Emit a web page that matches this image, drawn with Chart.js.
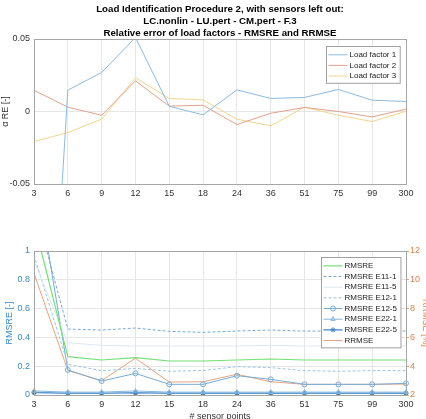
<!DOCTYPE html>
<html>
<head>
<meta charset="utf-8">
<script src="https://cdn.jsdelivr.net/npm/chart.js@4.4.1/dist/chart.umd.min.js"></script>
<style>
  html, body { margin: 0; padding: 0; overflow: hidden; background: #fff; width: 426px; height: 419px; }
  #topBox { position: absolute; left: 0; top: 0; width: 426px; height: 205px; }
  #bottomBox { position: absolute; left: 0; top: 225px; width: 440px; height: 200px; }
</style>
</head>
<body>
<div id="topBox"><canvas id="factorsChart" width="426" height="205"></canvas></div>
<div id="bottomBox"><canvas id="errorChart" width="440" height="200"></canvas></div>
<script>
// x categories: number of sensor points
const sensorPoints = ['3', '6', '9', '12', '15', '18', '24', '36', '51', '75', '99', '300'];

// top plot: relative error of load factors
const loadFactor1 = [-0.37, 0.0147, 0.0269, 0.051, 0.0036, -0.0023, 0.0149, 0.009, 0.0097, 0.0152, 0.0078, 0.0069];
const loadFactor2 = [0.0147, 0.003, -0.0026, 0.0211, 0.0037, 0.0043, -0.009, -0.0012, 0.0028, 0.0, -0.0037, 0.0016];
const loadFactor3 = [-0.0207, -0.0145, -0.0053, 0.0232, 0.009, 0.008, -0.0053, -0.0099, 0.003, -0.0026, -0.0069, 0.0002];
const topTicks = [-0.05, 0, 0.05];

// bottom plot: RMSRE (left axis) and RRMSE (right axis)
const rmsre = [1.2, 0.266, 0.243, 0.259, 0.236, 0.236, 0.243, 0.25, 0.243, 0.243, 0.243, 0.243];
const rmsreE11_1 = [1.33, 0.458, 0.451, 0.465, 0.442, 0.435, 0.444, 0.451, 0.444, 0.444, 0.444, 0.444];
const rmsreE11_5 = [0.93, 0.363, 0.345, 0.34, 0.34, 0.34, 0.34, 0.345, 0.34, 0.34, 0.34, 0.34];
const rmsreE12_1 = [0.97, 0.213, 0.169, 0.185, 0.165, 0.17, 0.197, 0.19, 0.169, 0.165, 0.169, 0.169];
const rmsreE12_5 = [1.6, 0.174, 0.097, 0.15, 0.074, 0.074, 0.134, 0.109, 0.074, 0.074, 0.074, 0.081];
const rmsreE22_1 = [0.028, 0.02, 0.02, 0.028, 0.02, 0.02, 0.02, 0.02, 0.02, 0.02, 0.02, 0.02];
const rmsreE22_5 = [0.018, 0.012, 0.012, 0.016, 0.012, 0.012, 0.012, 0.012, 0.012, 0.012, 0.012, 0.012];
const rrmse = [10.45, 3.7, 3.0, 4.55, 2.9, 2.92, 3.44, 2.92, 2.74, 2.74, 2.74, 2.76];

const titleLines = ['Load Identification Procedure 2, with sensors left out:', 'LC.nonlin - LU.pert - CM.pert - F.3', 'Relative error of load factors - RMSRE and RRMSE'];

const FONT = "'Liberation Sans', Arial, sans-serif";
const gridColor = '#e6e6e6';
const boxColor = '#a6a6a6';
const plainNum = v => String(+Number(v).toFixed(2));

// axis box, title over the plot area, and legend inside the plot area
const boxLegend = {
  id: 'boxLegend',
  afterDatasetsDraw(chart, args, opts) {
    const ctx = chart.ctx;
    const a = chart.chartArea;
    ctx.save();
    ctx.strokeStyle = boxColor;
    ctx.lineWidth = 1;
    ctx.strokeRect(Math.round(a.left) + 0.5, Math.round(a.top) + 0.5, Math.round(a.right - a.left), Math.round(a.bottom - a.top));

    if (opts.title) {
      ctx.fillStyle = '#000';
      ctx.font = 'bold 9.7px ' + FONT;
      ctx.textAlign = 'center';
      ctx.textBaseline = 'middle';
      opts.title.forEach((t, i) => ctx.fillText(t, (a.left + a.right) / 2, 9 + i * 12.2));
    }

    const sets = chart.data.datasets;
    ctx.font = opts.fontSize + 'px ' + FONT;
    let maxW = 0;
    sets.forEach(d => { maxW = Math.max(maxW, ctx.measureText(d.label).width); });
    const rowH = opts.rowH;
    const w = maxW + 27;
    const h = sets.length * rowH + 5;
    const x0 = Math.round(a.right - opts.right - w) + 0.5;
    const y0 = Math.round(a.top + opts.top) + 0.5;
    ctx.fillStyle = '#fff';
    ctx.fillRect(x0, y0, w, h);
    ctx.strokeStyle = '#a0a0a0';
    ctx.strokeRect(x0, y0, w, h);
    sets.forEach((d, i) => {
      const y = y0 + 3 + rowH * (i + 0.5);
      ctx.strokeStyle = d.borderColor;
      ctx.lineWidth = d.borderWidth || 1;
      ctx.setLineDash(d.borderDash || []);
      ctx.beginPath();
      ctx.moveTo(x0 + 2, y);
      ctx.lineTo(x0 + 21, y);
      ctx.stroke();
      ctx.setLineDash([]);
      if (d.pointStyle && d.pointRadius > 0) {
        ctx.strokeStyle = d.pointBorderColor;
        ctx.fillStyle = d.pointBackgroundColor || d.pointBorderColor;
        ctx.lineWidth = 1;
        Chart.helpers.drawPoint(ctx, {
          pointStyle: d.pointStyle, radius: d.pointRadius, rotation: 0, borderWidth: 1
        }, x0 + 11.5, y);
      }
      ctx.fillStyle = '#222';
      ctx.textBaseline = 'middle';
      ctx.textAlign = 'left';
      ctx.fillText(d.label, x0 + 23, y);
    });
    ctx.restore();
  }
};

const topCtx = document.getElementById('factorsChart').getContext('2d');
new Chart(topCtx, {
  type: 'line',
  data: {
    labels: sensorPoints,
    datasets: [
      { label: 'Load factor 1', data: loadFactor1, borderColor: '#8bbbe0', borderWidth: 1, pointRadius: 0 },
      { label: 'Load factor 2', data: loadFactor2, borderColor: '#e3a28c', borderWidth: 1, pointRadius: 0 },
      { label: 'Load factor 3', data: loadFactor3, borderColor: '#f0d58c', borderWidth: 1, pointRadius: 0 }
    ]
  },
  options: {
    responsive: false,
    animation: false,
    events: [],
    layout: { padding: { left: 0, right: 20, top: 39, bottom: 0 } },
    plugins: {
      legend: { display: false },
      tooltip: { enabled: false },
      title: { display: false },
      boxLegend: { fontSize: 8, rowH: 10.6, right: 6, top: 7, title: titleLines }
    },
    scales: {
      x: {
        offset: false,
        grid: { color: gridColor, drawTicks: false },
        border: { color: boxColor },
        ticks: { color: '#333', font: { family: FONT, size: 9 }, padding: 4, maxRotation: 0, autoSkip: false },
        afterFit(s) { s.height = 21; }
      },
      y: {
        min: -0.05, max: 0.05,
        afterBuildTicks(s) { s.ticks = topTicks.map(v => ({ value: v })); },
        grid: { color: gridColor, drawTicks: false },
        border: { color: boxColor },
        ticks: { color: '#333', font: { family: FONT, size: 9 }, padding: 4, callback: plainNum },
        title: { display: true, text: 'α RE [-]', color: '#333', font: { family: FONT, size: 9 }, padding: { top: 0, bottom: 0 } },
        afterFit(s) { s.width = 34; }
      }
    }
  },
  plugins: [boxLegend]
});

const bottomCtx = document.getElementById('errorChart').getContext('2d');
new Chart(bottomCtx, {
  type: 'line',
  data: {
    labels: sensorPoints,
    datasets: [
      { label: 'RMSRE', data: rmsre, borderColor: '#74e074', borderWidth: 1.2, pointRadius: 0, yAxisID: 'y' },
      { label: 'RMSRE E11-1', data: rmsreE11_1, borderColor: '#7aa9d6', borderWidth: 1, borderDash: [3, 2], pointRadius: 0, yAxisID: 'y' },
      { label: 'RMSRE E11-5', data: rmsreE11_5, borderColor: '#dbe8f4', borderWidth: 1, pointRadius: 0, yAxisID: 'y' },
      { label: 'RMSRE E12-1', data: rmsreE12_1, borderColor: '#9cc4e4', borderWidth: 1, borderDash: [3, 2], pointRadius: 0, yAxisID: 'y' },
      { label: 'RMSRE E12-5', data: rmsreE12_5, borderColor: '#78acd8', borderWidth: 1, pointStyle: 'circle', pointRadius: 2.5, pointBackgroundColor: 'rgba(0,0,0,0)', pointBorderColor: '#78acd8', yAxisID: 'y' },
      { label: 'RMSRE E22-1', data: rmsreE22_1, borderColor: '#86b6de', borderWidth: 1, pointStyle: 'triangle', pointRadius: 2.5, pointBackgroundColor: 'rgba(0,0,0,0)', pointBorderColor: '#86b6de', yAxisID: 'y' },
      { label: 'RMSRE E22-5', data: rmsreE22_5, borderColor: '#5c9bd2', borderWidth: 1.5, pointStyle: 'star', pointRadius: 2.5, pointBorderColor: '#3f86c6', yAxisID: 'y' },
      { label: 'RRMSE', data: rrmse, borderColor: '#e6a47e', borderWidth: 1, pointRadius: 0, yAxisID: 'y2' }
    ]
  },
  options: {
    responsive: false,
    animation: false,
    events: [],
    layout: { padding: { left: 0, right: 0, top: 26, bottom: 0 } },
    plugins: {
      legend: { display: false },
      tooltip: { enabled: false },
      boxLegend: { fontSize: 8, rowH: 10.67, right: 6, top: 6 }
    },
    scales: {
      x: {
        offset: false,
        grid: { color: gridColor, drawTicks: false },
        border: { color: boxColor },
        ticks: { color: '#333', font: { family: FONT, size: 9 }, padding: 4, maxRotation: 0, autoSkip: false },
        title: { display: true, text: '# sensor points', color: '#333', font: { family: FONT, size: 9 }, padding: { top: 0, bottom: 3 } },
        afterFit(s) { s.height = 30; }
      },
      y: {
        position: 'left',
        min: 0, max: 1,
        ticks: { stepSize: 0.2, color: '#3a88c9', font: { family: FONT, size: 9 }, padding: 4, callback: plainNum },
        grid: { color: gridColor, drawTicks: false },
        border: { color: '#6aa3d6' },
        title: { display: true, text: 'RMSRE [-]', color: '#3a88c9', font: { family: FONT, size: 9 }, padding: { top: 4, bottom: 0 } },
        afterFit(s) { s.width = 34; }
      },
      y2: {
        position: 'right',
        min: 2, max: 12,
        ticks: { stepSize: 2, color: '#d9824f', font: { family: FONT, size: 9 }, padding: 1 },
        grid: { drawOnChartArea: false, drawTicks: true, tickLength: 3, color: '#e2a27c' },
        border: { color: '#e2a27c' },
        title: { display: true, text: 'RRMSE [%]', color: '#d9824f', font: { family: FONT, size: 9 }, padding: { top: 9, bottom: 0 } },
        afterFit(s) { s.width = 34; }
      }
    }
  },
  plugins: [boxLegend]
});
</script>
</body>
</html>
